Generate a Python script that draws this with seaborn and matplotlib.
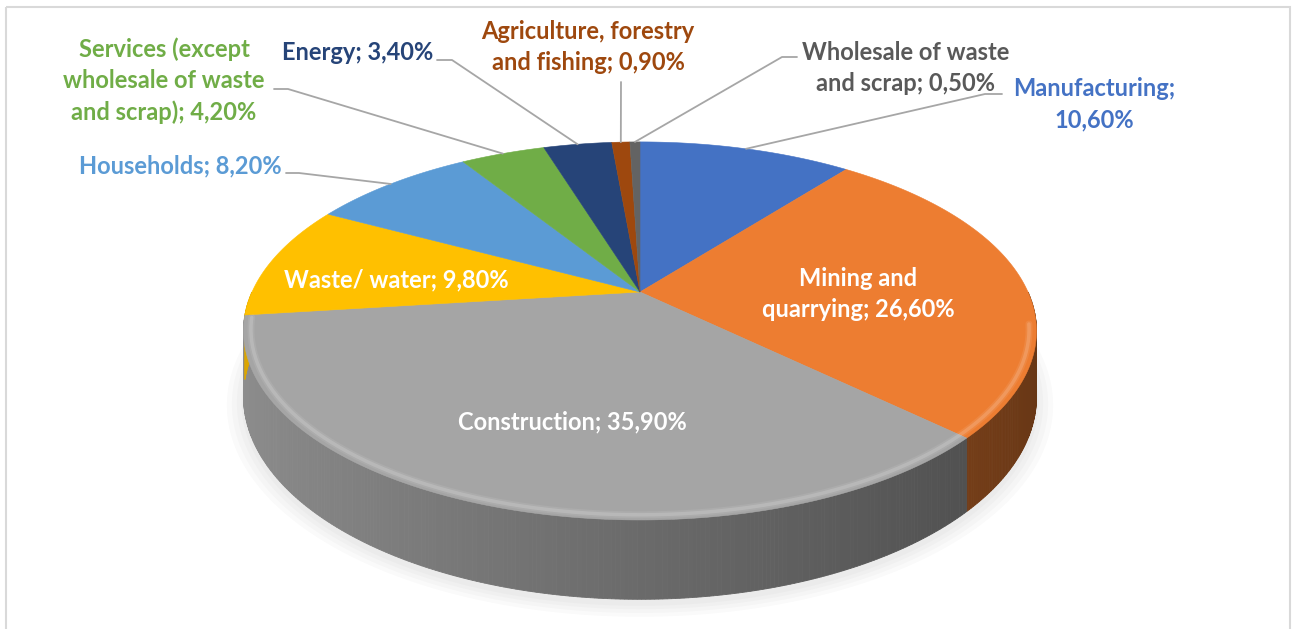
import textwrap
import numpy as np
import matplotlib
matplotlib.use("Agg")
import matplotlib.pyplot as plt
import matplotlib.colors as mcolors
from matplotlib.patches import Rectangle
import seaborn as sns

# --- DATA ---
categories = [
    "Manufacturing",
    "Mining and quarrying",
    "Construction",
    "Waste/ water",
    "Households",
    "Services (except wholesale of waste and scrap)",
    "Energy",
    "Agriculture, forestry and fishing",
    "Wholesale of waste and scrap",
]
shares = [10.6, 26.6, 35.9, 9.8, 8.2, 4.2, 3.4, 0.9, 0.5]
colors = ["#4472C4", "#ED7D31", "#A5A5A5", "#FFC000", "#5B9BD5",
          "#70AD47", "#264478", "#9E480E", "#636363"]

# --- LAYOUT (pixel space of the 1295x629 canvas) ---
CX, CY = 640, 292          # projected pie centre
R, S = 388, 181            # horizontal / vertical radius of the top face
P = 0.206                  # perspective strength
T = 63                     # thickness of the pie
FONT = ["Lato", "DejaVu Sans"]
FSIZE = 17

# label: (wrap width, x, y, colour, leader points from label towards the pie or None)
label_layout = [
    (14, 1094, 104, "#4472C4", [(1002, 94), (985, 94)]),
    (17, 858, 294, "white", None),
    (40, 572, 422, "white", None),
    (40, 396, 280, "white", None),
    (40, 180, 166, "#5B9BD5", [(286, 173), (299, 173)]),
    (18, 164, 81, "#70AD47", [(274, 89), (288, 89)]),
    (40, 358, 53, "#264478", [(437, 60), (452, 60)]),
    (21, 588, 47, "#9E480E", [(621, 82)]),
    (18, 906, 68, "#595959", [(797, 57), (782, 57)]),
]


def project(theta, z=0.0, scale=1.0):
    """Map a point of the unit circle (math angle, radians) to canvas pixels."""
    u, v = scale * np.cos(theta), scale * np.sin(theta)
    d = 1 + P * v
    return CX + R * u / d, CY - S * v / d + T * z / d


def shade(color, factor):
    rgb = np.array(mcolors.to_rgb(color))
    return tuple(np.clip(rgb * factor, 0, 1))


sns.set_theme(style="white")
plt.rcParams["font.family"] = FONT

fig = plt.figure(figsize=(12.95, 6.29), dpi=100)
ax = fig.add_axes([0, 0, 1, 1])
ax.set_xlim(0, 1295)
ax.set_ylim(629, 0)
ax.axis("off")

# chart border
ax.add_patch(Rectangle((6, 7), 1284, 640, fill=False, edgecolor="#d9d9d9", lw=1.5))

# clockwise angles (deg) from 12 o'clock
vals = np.array(shares, dtype=float)
cum = np.concatenate([[0], np.cumsum(vals)]) / vals.sum() * 360
starts, ends = cum[:-1], cum[1:]
to_theta = lambda a: np.deg2rad(90 - a)

# soft shadow under the pie
full = np.linspace(0, 2 * np.pi, 240)
for sc in [1.04, 1.028, 1.016, 1.005]:
    sx, sy = project(full, z=1.0, scale=sc)
    ax.fill(sx, sy + 5, color="#8c8c8c", alpha=0.045, lw=0, zorder=1)

# side walls (only the front half, clockwise 90..270 deg, is visible)
for a0, a1, col in zip(starts, ends, colors):
    lo, hi = max(a0, 90), min(a1, 270)
    if hi <= lo:
        continue
    steps = np.linspace(lo, hi, max(2, int((hi - lo) * 2) + 1))
    for s0, s1 in zip(steps[:-1], steps[1:]):
        th = to_theta(np.array([s0, s1]))
        xt, yt = project(th)
        xb, yb = project(th, z=1.0)
        u = np.cos(to_theta((s0 + s1) / 2))
        c = shade(col, 0.645 - 0.215 * u)
        ax.fill([xt[0], xt[1], xb[1], xb[0]], [yt[0], yt[1], yb[1], yb[0]],
                color=c, lw=0.6, ec=c, zorder=2)

# top face wedges
for a0, a1, col in zip(starts, ends, colors):
    th = to_theta(np.linspace(a0, a1, max(3, int((a1 - a0) * 2) + 1)))
    xs, ys = project(th)
    ax.fill(np.r_[CX, xs], np.r_[CY, ys], color=col, lw=0.4, ec=col, zorder=3)

# soft bevel highlight on the front rim
th = to_theta(np.linspace(100, 262, 200))
for sc, lw, al in [(0.982, 5, 0.08), (0.982, 2.5, 0.15)]:
    hx, hy = project(th, scale=sc)
    ax.plot(hx, hy, color="white", alpha=al, lw=lw, zorder=4,
            solid_capstyle="round")

# labels and leader lines
for name, v, a0, a1, (width, lx, ly, tcol, leader) in zip(
        categories, shares, starts, ends, label_layout):
    txt = textwrap.fill(f"{name}; {v:.2f}".replace(".", ",") + "%", width)
    ax.text(lx, ly, txt, ha="center", va="center", color=tcol,
            fontsize=FSIZE, fontweight="bold", linespacing=1.42, zorder=6)
    if leader:
        ax_, ay_ = project(to_theta((a0 + a1) / 2))
        pts = leader + [(float(ax_), float(ay_))]
        ax.plot([p[0] for p in pts], [p[1] for p in pts],
                color="#a6a6a6", lw=1.3, zorder=5)

fig.savefig("out.png", dpi=100, facecolor="white")
